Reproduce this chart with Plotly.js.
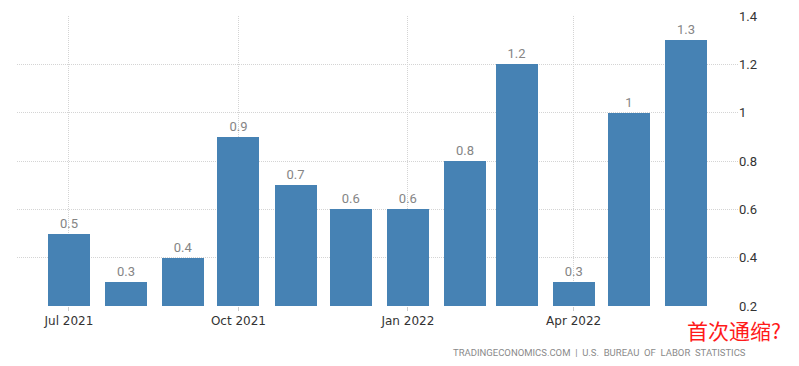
<!DOCTYPE html>
<html>
<head>
<meta charset="utf-8">
<script src="https://cdn.plot.ly/plotly-3.0.1.min.js"></script>
<style>html,body{margin:0;padding:0;background:#fff;}#chart{width:799px;height:366px;}</style>
</head>
<body>
<div id="chart"></div>
<script>
var months = ["2021-07-01","2021-08-01","2021-09-01","2021-10-01","2021-11-01","2021-12-01","2022-01-01","2022-02-01","2022-03-01","2022-04-01","2022-05-01","2022-06-01"];
var values = [0.5,0.3,0.4,0.9,0.7,0.6,0.6,0.8,1.2,0.3,1,1.3];
var labels = ["0.5","0.3","0.4","0.9","0.7","0.6","0.6","0.8","1.2","0.3","1","1.3"];
var yTicks = [0.2,0.4,0.6,0.8,1,1.2,1.4];
var sourceText = "TRADINGECONOMICS.COM  |  U.S.  BUREAU  OF  LABOR  STATISTICS";
var noteText = "首次通缩?";

var day = 86400000;
var trace = {
  type: "bar",
  x: months,
  y: values,
  text: labels,
  textposition: "outside",
  texttemplate: "%{text}",
  cliponaxis: false,
  textfont: {family: "Roboto, 'Open Sans', sans-serif", size: 13, color: "#858585"},
  marker: {color: "#4682b4", line: {width: 0}},
  width: 22.8 * day,
  hoverinfo: "x+y"
};

var layout = {
  width: 799, height: 366,
  margin: {l: 17, r: 61, t: 16, b: 60},
  paper_bgcolor: "#fff", plot_bgcolor: "#fff",
  showlegend: false,
  bargap: 0,
  xaxis: {
    type: "date",
    range: ["2021-06-02 19:00", "2022-06-29 05:00"],
    tick0: "2021-07-01", dtick: "M3",
    tickformat: "%b %Y",
    showgrid: true, gridcolor: "#d4d4d4", griddash: "1px,1px", gridwidth: 1,
    ticks: "outside", ticklen: 4, tickcolor: "#cccccc",
    zeroline: false, showline: false,
    tickfont: {family: "'DejaVu Sans', Verdana, sans-serif", size: 12, color: "#333"}
  },
  yaxis: {
    side: "right",
    range: [0.2, 1.4],
    tickvals: yTicks,
    ticktext: yTicks.map(String),
    showgrid: true, gridcolor: "#d4d4d4", griddash: "1px,1px", gridwidth: 1,
    zeroline: false, showline: false,
    ticks: "",
    tickfont: {family: "Roboto, Arial, sans-serif", size: 13, color: "#333"}
  },
  annotations: [
    {xref: "paper", yref: "paper", x: (748-17)/721, y: -46/290, xanchor: "right", yanchor: "middle",
     text: sourceText, showarrow: false,
     font: {family: "Roboto, Arial, sans-serif", size: 9.5, color: "#8a8a8a"}},
    {xref: "paper", yref: "paper", x: (685-17)/721, y: -(330-306)/290, xanchor: "left", yanchor: "middle",
     text: noteText, showarrow: false,
     font: {family: "'Noto Sans CJK SC', sans-serif", size: 21, color: "#ff1a1a"}}
  ]
};

Plotly.newPlot("chart", [trace], layout, {displayModeBar: false, staticPlot: true});
</script>
</body>
</html>
